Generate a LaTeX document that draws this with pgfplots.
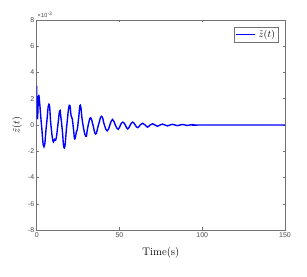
\documentclass[border=0pt]{standalone}
\usepackage{fontspec}
\setsansfont{Liberation Sans}
\usepackage{pgfplots}
\pgfplotsset{compat=1.18}
\definecolor{axgray}{gray}{0.45}
\begin{document}
\begin{tikzpicture}
\useasboundingbox (0,0) rectangle (307bp,277bp);
\begin{axis}[
  name=main,
  at={(36.7bp,47bp)}, anchor=south west,
  scale only axis, width=248.3bp, height=210bp,
  xmin=0, xmax=150, ymin=-8, ymax=8,
  xtick={0,50,100,150}, ytick={-8,-6,-4,-2,0,2,4,6,8},
  scaled ticks=false,
  tick align=inside, major tick length=2.5bp,
  axis line style={axgray, line width=0.5pt},
  every tick/.style={axgray, line width=0.5pt},
  /pgf/number format/assume math mode=true,
  tick label style={font=\fontsize{7}{8}\sffamily, text=black!70},
  xticklabel style={yshift=1bp},
  yticklabel style={xshift=1bp},
  xlabel={Time(s)},
  xlabel style={at={(axis description cs:0.5,-0.11)}, anchor=center, font=\fontsize{11}{13}\selectfont},
  ylabel={$\tilde{z}(t)$},
  ylabel style={at={(axis description cs:-0.079,0.5)}, anchor=center, font=\fontsize{10}{12}\selectfont},
  legend style={at={(axis description cs:0.973,0.968)}, anchor=north east, draw=axgray, line width=0.5pt,
    font=\fontsize{10}{12}\selectfont, inner sep=1pt, row sep=0pt,
    /tikz/every odd column/.style={column sep=1pt}},
  legend cell align=left,
  legend image code/.code={\draw[#1] (0bp,0bp) -- (19bp,0bp);},
]
\addplot[color=blue, line width=1.4pt, smooth, tension=0.85] coordinates {
(0,3.0) (0.4,0.5) (1.1,2.1) (1.7,1.8) (2.9,0) (4.4,-1.66) (5.9,0) (7.4,1.58)
(8.6,0) (9.8,-1.2) (10.8,-1.1) (11.7,-1.05) (12.8,0) (13.9,1.08) (14.6,0.6)
(15.4,-0.3) (16.7,-1.75) (18.2,0) (19.7,1.5) (20.8,0.7) (21.5,0.45) (22.3,-0.4)
(23.0,-1.06) (24.0,-0.5) (24.6,-0.3) (25.4,0.6) (26.4,1.5) (27.7,0.2)
(29.6,-0.85) (30.6,-0.35) (31.3,0.1) (32.6,0.55) (34.0,0) (35.6,-0.68)
(37.3,0) (39.2,0.66) (40.9,0) (42.6,-0.45) (44.2,0) (45.8,0.42) (47.5,0)
(49.2,-0.33) (50.6,0) (52.0,0.22) (53.5,0) (55.0,-0.3) (56.5,0) (58.0,0.22)
(59.5,0) (61.0,-0.2) (62.5,0) (64.0,0.13) (65.5,0) (67.0,-0.16) (68.5,0)
(70.0,0.09) (71.5,0) (73,-0.1) (74.5,0) (76,0.07) (77.5,0) (79,-0.07)
(80.5,0) (82,0.05) (83.5,0) (85,-0.05) (86.5,0) (88,0.04) (89.5,0)
(91,-0.03) (92.5,0) (94,0.03) (95.5,0) (97,-0.02) (100,0) (150,0)
};
\addlegendentry{$\tilde{z}(t)$}
\end{axis}
\node[anchor=south west, inner sep=0pt, font=\fontsize{6}{7}\sffamily, text=black!70] at ([xshift=0.5bp,yshift=2bp]main.north west) {×10\textsuperscript{-3}};
\end{tikzpicture}
\end{document}
